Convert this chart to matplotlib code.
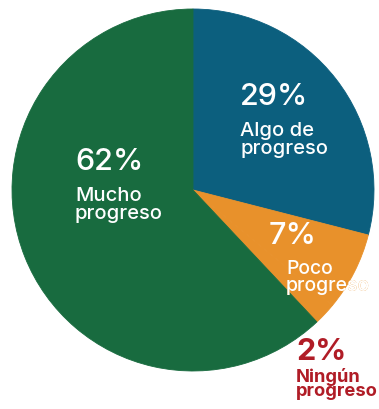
import matplotlib.pyplot as plt

# progreso reportado, en porcentaje
categorias = ["Algo de\nprogreso", "Poco\nprogreso", "Ningún\nprogreso", "Mucho\nprogreso"]
valores = [29, 7, 2, 62]
colores = ["#0c5f7e", "#e8912b", "#e8912b", "#186b3f"]
color_texto = ["white", "white", "#b01c26", "white"]

W, H = 379, 410
fig = plt.figure(figsize=(W / 100, H / 100), dpi=100)
ax = fig.add_axes([0, 0, 1, 1])

# el pastel empieza arriba y gira en sentido horario
cunas, _ = ax.pie(valores, colors=colores, startangle=90, counterclock=False,
                  center=(193, H - 191), radius=181, frame=True)
for c in cunas:
    c.set_edgecolor(c.get_facecolor())
    c.set_linewidth(0.6)

# posiciones de las etiquetas (x izquierda, y desde arriba)
pos_num = [(240, 97), (269, 236), (296, 352), (75, 162)]
pos_txt = [(240, 122), (286, 260), (296, 368), (75, 187)]
tam_txt = [14.5, 14, 13.2, 14.5]
interlinea = [1.0, 0.95, 0.8, 1.0]

fuente = ["Inter", "DejaVu Sans"]
for i in range(len(valores)):
    peso = "bold" if color_texto[i] != "white" else "medium"
    ax.text(pos_num[i][0], H - pos_num[i][1], f"{valores[i]}%",
            ha="left", va="center", fontsize=22, color=color_texto[i],
            family=fuente, fontweight=peso)
    estilo = dict(ha="left", va="top", fontsize=tam_txt[i], family=fuente,
                  fontweight=peso, linespacing=interlinea[i])
    if i == 1:
        # "Poco progreso" se sale del pastel: naranja fuera, blanco dentro
        ax.text(pos_txt[i][0], H - pos_txt[i][1], categorias[i],
                color=colores[i], **estilo)
        t = ax.text(pos_txt[i][0], H - pos_txt[i][1], categorias[i],
                    color="white", **estilo)
        t.set_clip_path(cunas[i])
    else:
        ax.text(pos_txt[i][0], H - pos_txt[i][1], categorias[i],
                color=color_texto[i], **estilo)

ax.set_xlim(0, W)
ax.set_ylim(0, H)
ax.set_aspect("equal")
ax.axis("off")

fig.savefig("out.png", dpi=100, facecolor="white")
